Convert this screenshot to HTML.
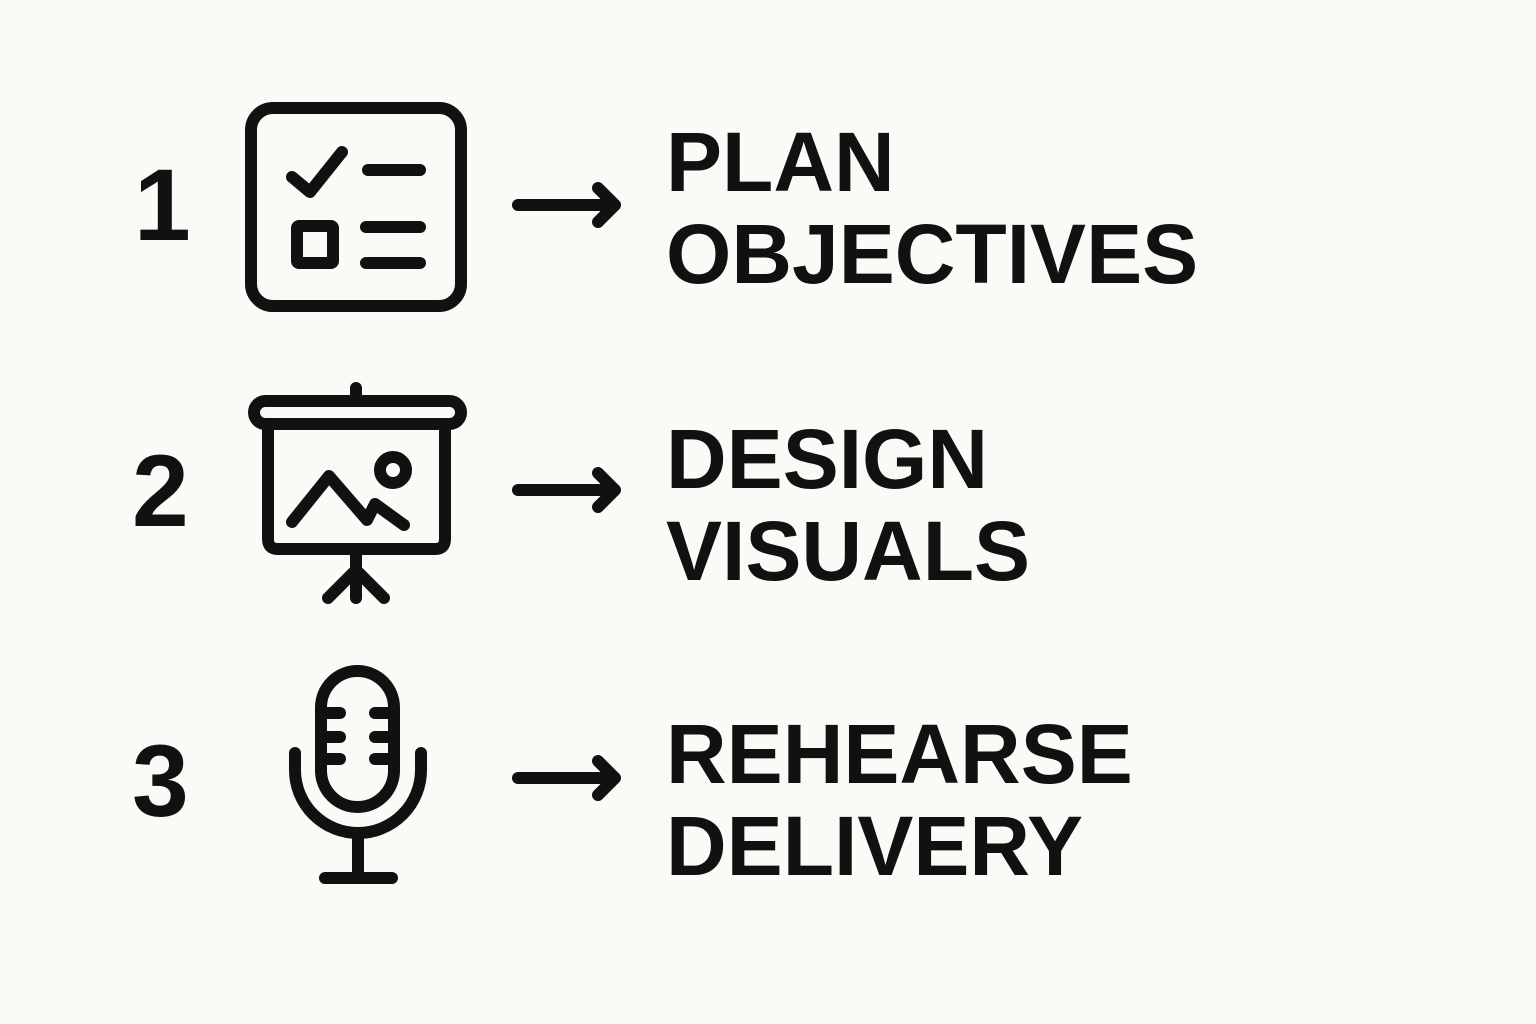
<!DOCTYPE html>
<html><head><meta charset="utf-8"><style>
html,body{margin:0;padding:0;background:#fbfaf6;}
.wrap{position:relative;width:1536px;height:1024px;overflow:hidden;}
.t{position:absolute;font-family:"Liberation Sans",sans-serif;font-weight:bold;color:#111;white-space:nowrap;}
.lbl{font-size:84px;line-height:92px;}
.num{font-size:102px;line-height:1;}
</style></head><body><div class="wrap">
<svg width="1536" height="1024" style="position:absolute;left:0;top:0" fill="none" stroke="#111" stroke-width="12" stroke-linecap="round" stroke-linejoin="round">
<rect x="251" y="108" width="210" height="198" rx="22"/>
<polyline points="292,177 310,192 342,152"/>
<line x1="368" y1="170" x2="420" y2="170"/>
<rect x="297" y="226" width="36" height="37" rx="2"/>
<line x1="366" y1="227" x2="420" y2="227"/>
<line x1="366" y1="263" x2="420" y2="263"/>
<line x1="356" y1="388" x2="356" y2="401"/>
<rect x="254" y="401" width="207" height="23" rx="11.5"/>
<path d="M268 424 V539 Q268 549 278 549 H435 Q445 549 445 539 V424"/>
<line x1="356" y1="549" x2="356" y2="598"/>
<polyline points="328,598 356,570 384,598"/>
<polyline points="292,522 329,476 367,520 375,504 404,525"/>
<circle cx="393" cy="470" r="13"/>
<rect x="321" y="671" width="73" height="136" rx="36.5"/>
<line x1="321" y1="713" x2="340" y2="713"/>
<line x1="321" y1="737" x2="340" y2="737"/>
<line x1="321" y1="759" x2="340" y2="759"/>
<line x1="375" y1="713" x2="394" y2="713"/>
<line x1="375" y1="737" x2="394" y2="737"/>
<line x1="375" y1="759" x2="394" y2="759"/>
<path d="M295 753 V770 A63 63 0 0 0 421 770 V753"/>
<line x1="358" y1="833" x2="358" y2="878"/>
<line x1="325" y1="878" x2="392" y2="878"/>
<line x1="518" y1="205" x2="613" y2="205"/><polyline points="598,188 615,205 598,222"/>
<line x1="518" y1="490" x2="613" y2="490"/><polyline points="598,473 615,490 598,507"/>
<line x1="518" y1="778" x2="613" y2="778"/><polyline points="598,761 615,778 598,795"/>
</svg>
<div class="t num" style="left:134px;top:154px">1</div>
<div class="t num" style="left:132px;top:440px">2</div>
<div class="t num" style="left:132px;top:730px">3</div>
<div class="t lbl" style="left:666px;top:116px">PLAN<br>OBJECTIVES</div>
<div class="t lbl" style="left:666px;top:413px">DESIGN<br>VISUALS</div>
<div class="t lbl" style="left:666px;top:708px">REHEARSE<br>DELIVERY</div>
</div></body></html>
